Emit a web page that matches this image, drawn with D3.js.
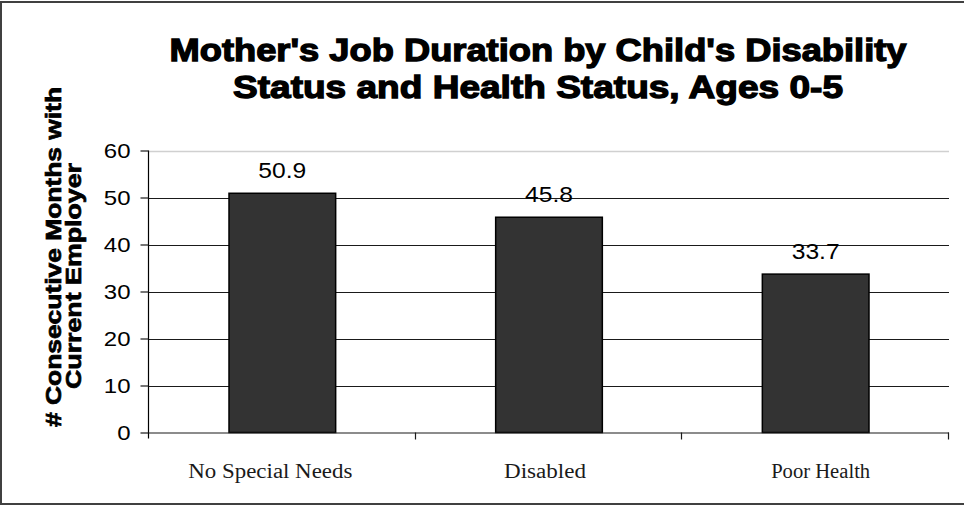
<!DOCTYPE html>
<html><head><meta charset="utf-8">
<script src="https://cdn.jsdelivr.net/npm/d3@7"></script>
<style>html,body{margin:0;padding:0;background:#fff;}svg{display:block;}</style>
</head><body>
<svg id="c" width="964" height="506"></svg>
<script>
const categories = ["No Special Needs", "Disabled", "Poor Health"];
const values = [50.9, 45.8, 33.7];
const yTicks = [0, 10, 20, 30, 40, 50, 60];
const titleLines = ["Mother's Job Duration by Child's Disability", "Status and Health Status, Ages 0-5"];
const yTitleLines = ["# Consecutive Months with", "Current Employer"];

(function () {
const svg = d3.select("#c");
const pL = 149, pR = 949, pT = 150.5, pB = 432.5;

svg.append("rect").attr("x", 1).attr("y", 2).attr("width", 980).attr("height", 502)
  .attr("fill", "#fff").attr("stroke", "#404040").attr("stroke-width", 2);

const x = d3.scaleBand().domain(categories).range([pL, pR]).paddingInner(0.6).paddingOuter(0.3);
const y = d3.scaleLinear().domain([0, 60]).range([pB, pT]);

// gridlines
svg.append("g").selectAll("line").data(yTicks.filter(d => d > 0)).join("line")
  .attr("x1", pL).attr("x2", pR)
  .attr("y1", d => Math.round(y(d)) + 0.5).attr("y2", d => Math.round(y(d)) + 0.5)
  .attr("stroke", d => d === 60 ? "#d0d0d0" : "#1a1a1a").attr("stroke-width", d => d === 60 ? 1.5 : 1.2);

// bars
svg.append("g").selectAll("rect").data(values).join("rect")
  .attr("x", (d, i) => x(categories[i]))
  .attr("width", x.bandwidth())
  .attr("y", d => y(d))
  .attr("height", d => y(0) - y(d))
  .attr("fill", "#333333").attr("stroke", "#000").attr("stroke-width", 1.5);

// y axis
const yAxis = d3.axisLeft(y).tickValues(yTicks).tickSize(8).tickPadding(11).tickFormat(d3.format("d"));
const ya = svg.append("g").attr("transform", `translate(${pL - 0.5},0)`).call(yAxis);
ya.select(".domain").attr("d", `M0,${pT}V${pB + 6}`).attr("stroke", "#000").attr("stroke-width", 1.2);
ya.selectAll(".tick line").attr("stroke", "#1a1a1a").attr("stroke-width", 1.2);
ya.selectAll(".tick text").attr("font-family", "Liberation Sans, Arial, sans-serif")
  .attr("font-size", 20).attr("fill", "#000").attr("dy", "0.36em")
  .attr("transform", "scale(1.2,1)")
  .attr("x", -18 / 1.2);

// x axis
const xEdges = [pL, pL + (pR - pL) / 3, pL + 2 * (pR - pL) / 3, pR];
svg.append("line").attr("x1", pL).attr("x2", pR).attr("y1", pB + 0.5).attr("y2", pB + 0.5)
  .attr("stroke", "#1a1a1a").attr("stroke-width", 1.2);
svg.append("g").selectAll("line").data(xEdges.slice(1)).join("line")
  .attr("x1", d => Math.round(d) - 0.5).attr("x2", d => Math.round(d) - 0.5)
  .attr("y1", pB).attr("y2", pB + 7).attr("stroke", "#1a1a1a").attr("stroke-width", 1.2);

// category labels
const catW = [164, 82, 99];
const catOff = [-12, -4, 5];
svg.append("g").selectAll("text").data(categories).join("text")
  .attr("x", (d, i) => x(d) + x.bandwidth() / 2 - catW[i] / 2 + catOff[i])
  .attr("y", 478)
  .attr("font-family", "Liberation Serif, Times New Roman, serif").attr("font-size", 20)
  .attr("fill", "#1a1a1a")
  .attr("textLength", (d, i) => catW[i]).attr("lengthAdjust", "spacingAndGlyphs")
  .text(d => d);

// value labels
svg.append("g").selectAll("text").data(values).join("text")
  .attr("transform", (d, i) => `translate(${x(categories[i]) + x.bandwidth() / 2},${y(d) - 15}) scale(1.12,1)`)
  .attr("text-anchor", "middle")
  .attr("font-family", "Liberation Sans, Arial, sans-serif").attr("font-size", 22).attr("fill", "#000")
  .text(d => d.toFixed(1));

// title
const titleW = [737, 610];
svg.append("g").selectAll("text").data(titleLines).join("text")
  .attr("x", (d, i) => 538 - titleW[i] / 2)
  .attr("y", (d, i) => 61 + i * 37)
  .attr("font-family", "Liberation Sans, Arial, sans-serif").attr("font-weight", "bold")
  .attr("font-size", 32).attr("fill", "#000")
  .attr("stroke", "#000").attr("stroke-width", 1.3)
  .attr("textLength", (d, i) => titleW[i]).attr("lengthAdjust", "spacingAndGlyphs")
  .text(d => d);

// y title
const yTitle = [{x: 61, cy: 257, len: 340}, {x: 81, cy: 276, len: 226}];
svg.append("g").selectAll("text").data(yTitleLines).join("text")
  .attr("transform", (d, i) => `translate(${yTitle[i].x},${yTitle[i].cy + yTitle[i].len / 2}) rotate(-90)`)
  .attr("x", 0).attr("y", 0)
  .attr("font-family", "Liberation Sans, Arial, sans-serif").attr("font-weight", "bold")
  .attr("font-size", 22).attr("fill", "#000")
  .attr("stroke", "#000").attr("stroke-width", 0.7)
  .attr("textLength", (d, i) => yTitle[i].len).attr("lengthAdjust", "spacingAndGlyphs")
  .text(d => d);
})();
</script>
</body></html>
